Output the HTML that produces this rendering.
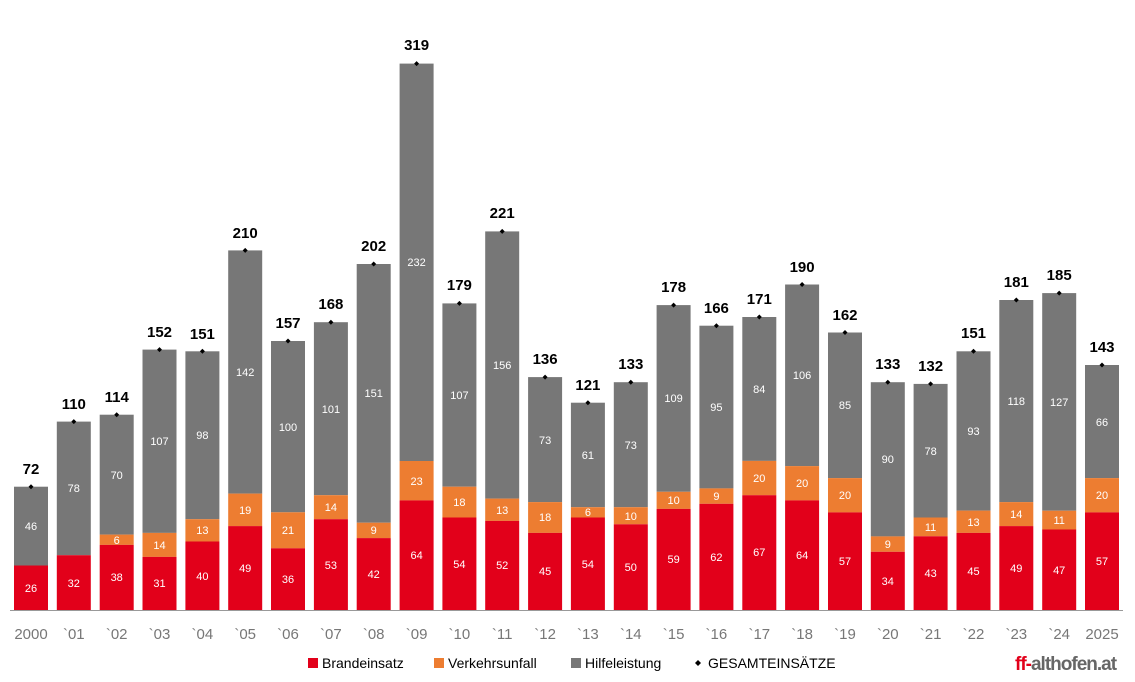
<!DOCTYPE html>
<html><head><meta charset="utf-8"><style>
body{margin:0;background:#fff}
svg{display:block;font-family:"Liberation Sans",sans-serif}
.r{fill:#E2001A}.o{fill:#ED7D31}.g{fill:#777}
.l{fill:#fff;font-size:11px;text-anchor:middle}
.t{fill:#000;font-size:15px;font-weight:bold;text-anchor:middle}
.x{fill:#777;font-size:15px;text-anchor:middle}
.lg{fill:#000;font-size:14px}
</style></head><body>
<svg width="1135" height="682" viewBox="0 0 1135 682">
<line x1="10" y1="610.5" x2="1123" y2="610.5" stroke="#999" stroke-width="1"/>
<g id="bars">
<rect class="g" x="14" y="486.7" width="34" height="78.8"/><rect class="r" x="14" y="565.5" width="34" height="44.5"/>
<rect class="g" x="56.8" y="421.6" width="34" height="133.6"/><rect class="r" x="56.8" y="555.2" width="34" height="54.8"/>
<rect class="g" x="99.7" y="414.7" width="34" height="119.9"/><rect class="o" x="99.7" y="534.6" width="34" height="10.3"/><rect class="r" x="99.7" y="544.9" width="34" height="65.1"/>
<rect class="g" x="142.5" y="349.6" width="34" height="183.3"/><rect class="o" x="142.5" y="532.9" width="34" height="24"/><rect class="r" x="142.5" y="556.9" width="34" height="53.1"/>
<rect class="g" x="185.4" y="351.3" width="34" height="167.9"/><rect class="o" x="185.4" y="519.2" width="34" height="22.3"/><rect class="r" x="185.4" y="541.5" width="34" height="68.5"/>
<rect class="g" x="228.2" y="250.4" width="34" height="243.2"/><rect class="o" x="228.2" y="493.6" width="34" height="32.5"/><rect class="r" x="228.2" y="526.1" width="34" height="83.9"/>
<rect class="g" x="271" y="341" width="34" height="171.3"/><rect class="o" x="271" y="512.3" width="34" height="36"/><rect class="r" x="271" y="548.3" width="34" height="61.7"/>
<rect class="g" x="313.9" y="322.2" width="34" height="173"/><rect class="o" x="313.9" y="495.2" width="34" height="24"/><rect class="r" x="313.9" y="519.2" width="34" height="90.8"/>
<rect class="g" x="356.7" y="264" width="34" height="258.7"/><rect class="o" x="356.7" y="522.7" width="34" height="15.4"/><rect class="r" x="356.7" y="538.1" width="34" height="71.9"/>
<rect class="g" x="399.6" y="63.6" width="34" height="397.4"/><rect class="o" x="399.6" y="461" width="34" height="39.4"/><rect class="r" x="399.6" y="500.4" width="34" height="109.6"/>
<rect class="g" x="442.4" y="303.4" width="34" height="183.3"/><rect class="o" x="442.4" y="486.7" width="34" height="30.8"/><rect class="r" x="442.4" y="517.5" width="34" height="92.5"/>
<rect class="g" x="485.2" y="231.4" width="34" height="267.2"/><rect class="o" x="485.2" y="498.6" width="34" height="22.3"/><rect class="r" x="485.2" y="520.9" width="34" height="89.1"/>
<rect class="g" x="528.1" y="377.1" width="34" height="125"/><rect class="o" x="528.1" y="502.1" width="34" height="30.8"/><rect class="r" x="528.1" y="532.9" width="34" height="77.1"/>
<rect class="g" x="570.9" y="402.7" width="34" height="104.5"/><rect class="o" x="570.9" y="507.2" width="34" height="10.3"/><rect class="r" x="570.9" y="517.5" width="34" height="92.5"/>
<rect class="g" x="613.8" y="382.2" width="34" height="125"/><rect class="o" x="613.8" y="507.2" width="34" height="17.1"/><rect class="r" x="613.8" y="524.3" width="34" height="85.7"/>
<rect class="g" x="656.6" y="305.1" width="34" height="186.7"/><rect class="o" x="656.6" y="491.8" width="34" height="17.1"/><rect class="r" x="656.6" y="508.9" width="34" height="101.1"/>
<rect class="g" x="699.4" y="325.7" width="34" height="162.7"/><rect class="o" x="699.4" y="488.4" width="34" height="15.4"/><rect class="r" x="699.4" y="503.8" width="34" height="106.2"/>
<rect class="g" x="742.3" y="317" width="34" height="143.9"/><rect class="o" x="742.3" y="460.9" width="34" height="34.3"/><rect class="r" x="742.3" y="495.2" width="34" height="114.8"/>
<rect class="g" x="785.1" y="284.5" width="34" height="181.6"/><rect class="o" x="785.1" y="466.1" width="34" height="34.3"/><rect class="r" x="785.1" y="500.4" width="34" height="109.6"/>
<rect class="g" x="828" y="332.5" width="34" height="145.6"/><rect class="o" x="828" y="478.1" width="34" height="34.3"/><rect class="r" x="828" y="512.4" width="34" height="97.6"/>
<rect class="g" x="870.8" y="382.2" width="34" height="154.2"/><rect class="o" x="870.8" y="536.4" width="34" height="15.4"/><rect class="r" x="870.8" y="551.8" width="34" height="58.2"/>
<rect class="g" x="913.6" y="383.9" width="34" height="133.6"/><rect class="o" x="913.6" y="517.5" width="34" height="18.8"/><rect class="r" x="913.6" y="536.3" width="34" height="73.7"/>
<rect class="g" x="956.5" y="351.3" width="34" height="159.3"/><rect class="o" x="956.5" y="510.6" width="34" height="22.3"/><rect class="r" x="956.5" y="532.9" width="34" height="77.1"/>
<rect class="g" x="999.3" y="300" width="34" height="202.1"/><rect class="o" x="999.3" y="502.1" width="34" height="24"/><rect class="r" x="999.3" y="526.1" width="34" height="83.9"/>
<rect class="g" x="1042.2" y="293.1" width="34" height="217.6"/><rect class="o" x="1042.2" y="510.7" width="34" height="18.8"/><rect class="r" x="1042.2" y="529.5" width="34" height="80.5"/>
<rect class="g" x="1085" y="365" width="34" height="113.1"/><rect class="o" x="1085" y="478.1" width="34" height="34.3"/><rect class="r" x="1085" y="512.4" width="34" height="97.6"/>
</g>
<g>
<text class="l" x="31" y="592">26</text><text class="l" x="31" y="530">46</text>
<text class="l" x="73.8" y="587">32</text><text class="l" x="73.8" y="492">78</text>
<text class="l" x="116.7" y="581">38</text><text class="l" x="116.7" y="544">6</text><text class="l" x="116.7" y="479">70</text>
<text class="l" x="159.5" y="587">31</text><text class="l" x="159.5" y="549">14</text><text class="l" x="159.5" y="445">107</text>
<text class="l" x="202.4" y="580">40</text><text class="l" x="202.4" y="534">13</text><text class="l" x="202.4" y="439">98</text>
<text class="l" x="245.2" y="572">49</text><text class="l" x="245.2" y="514">19</text><text class="l" x="245.2" y="376">142</text>
<text class="l" x="288" y="583">36</text><text class="l" x="288" y="534">21</text><text class="l" x="288" y="431">100</text>
<text class="l" x="330.9" y="569">53</text><text class="l" x="330.9" y="511">14</text><text class="l" x="330.9" y="413">101</text>
<text class="l" x="373.7" y="578">42</text><text class="l" x="373.7" y="534">9</text><text class="l" x="373.7" y="397">151</text>
<text class="l" x="416.6" y="559">64</text><text class="l" x="416.6" y="485">23</text><text class="l" x="416.6" y="266">232</text>
<text class="l" x="459.4" y="568">54</text><text class="l" x="459.4" y="506">18</text><text class="l" x="459.4" y="399">107</text>
<text class="l" x="502.2" y="569">52</text><text class="l" x="502.2" y="514">13</text><text class="l" x="502.2" y="369">156</text>
<text class="l" x="545.1" y="575">45</text><text class="l" x="545.1" y="521">18</text><text class="l" x="545.1" y="444">73</text>
<text class="l" x="587.9" y="568">54</text><text class="l" x="587.9" y="516">6</text><text class="l" x="587.9" y="459">61</text>
<text class="l" x="630.8" y="571">50</text><text class="l" x="630.8" y="520">10</text><text class="l" x="630.8" y="449">73</text>
<text class="l" x="673.6" y="563">59</text><text class="l" x="673.6" y="504">10</text><text class="l" x="673.6" y="402">109</text>
<text class="l" x="716.4" y="561">62</text><text class="l" x="716.4" y="500">9</text><text class="l" x="716.4" y="411">95</text>
<text class="l" x="759.3" y="556">67</text><text class="l" x="759.3" y="482">20</text><text class="l" x="759.3" y="393">84</text>
<text class="l" x="802.1" y="559">64</text><text class="l" x="802.1" y="487">20</text><text class="l" x="802.1" y="379">106</text>
<text class="l" x="845" y="565">57</text><text class="l" x="845" y="499">20</text><text class="l" x="845" y="409">85</text>
<text class="l" x="887.8" y="585">34</text><text class="l" x="887.8" y="548">9</text><text class="l" x="887.8" y="463">90</text>
<text class="l" x="930.6" y="577">43</text><text class="l" x="930.6" y="531">11</text><text class="l" x="930.6" y="455">78</text>
<text class="l" x="973.5" y="575">45</text><text class="l" x="973.5" y="526">13</text><text class="l" x="973.5" y="435">93</text>
<text class="l" x="1016.3" y="572">49</text><text class="l" x="1016.3" y="518">14</text><text class="l" x="1016.3" y="405">118</text>
<text class="l" x="1059.2" y="574">47</text><text class="l" x="1059.2" y="524">11</text><text class="l" x="1059.2" y="406">127</text>
<text class="l" x="1102" y="565">57</text><text class="l" x="1102" y="499">20</text><text class="l" x="1102" y="426">66</text>
</g>
<g fill="#000">
<path d="M31 484.2l2.5 2.5-2.5 2.5-2.5-2.5z"/><path d="M73.8 419.1l2.5 2.5-2.5 2.5-2.5-2.5z"/><path d="M116.7 412.2l2.5 2.5-2.5 2.5-2.5-2.5z"/><path d="M159.5 347.1l2.5 2.5-2.5 2.5-2.5-2.5z"/><path d="M202.4 348.8l2.5 2.5-2.5 2.5-2.5-2.5z"/><path d="M245.2 247.9l2.5 2.5-2.5 2.5-2.5-2.5z"/><path d="M288 338.5l2.5 2.5-2.5 2.5-2.5-2.5z"/><path d="M330.9 319.7l2.5 2.5-2.5 2.5-2.5-2.5z"/><path d="M373.7 261.5l2.5 2.5-2.5 2.5-2.5-2.5z"/><path d="M416.6 61.1l2.5 2.5-2.5 2.5-2.5-2.5z"/><path d="M459.4 300.9l2.5 2.5-2.5 2.5-2.5-2.5z"/><path d="M502.2 228.9l2.5 2.5-2.5 2.5-2.5-2.5z"/><path d="M545.1 374.6l2.5 2.5-2.5 2.5-2.5-2.5z"/><path d="M587.9 400.2l2.5 2.5-2.5 2.5-2.5-2.5z"/><path d="M630.8 379.7l2.5 2.5-2.5 2.5-2.5-2.5z"/><path d="M673.6 302.6l2.5 2.5-2.5 2.5-2.5-2.5z"/><path d="M716.4 323.2l2.5 2.5-2.5 2.5-2.5-2.5z"/><path d="M759.3 314.5l2.5 2.5-2.5 2.5-2.5-2.5z"/><path d="M802.1 282l2.5 2.5-2.5 2.5-2.5-2.5z"/><path d="M845 330l2.5 2.5-2.5 2.5-2.5-2.5z"/><path d="M887.8 379.7l2.5 2.5-2.5 2.5-2.5-2.5z"/><path d="M930.6 381.4l2.5 2.5-2.5 2.5-2.5-2.5z"/><path d="M973.5 348.8l2.5 2.5-2.5 2.5-2.5-2.5z"/><path d="M1016.3 297.5l2.5 2.5-2.5 2.5-2.5-2.5z"/><path d="M1059.2 290.6l2.5 2.5-2.5 2.5-2.5-2.5z"/><path d="M1102 362.5l2.5 2.5-2.5 2.5-2.5-2.5z"/>
</g>
<g>
<text class="t" x="31" y="474">72</text><text class="t" x="73.8" y="409">110</text><text class="t" x="116.7" y="402">114</text><text class="t" x="159.5" y="337">152</text><text class="t" x="202.4" y="339">151</text><text class="t" x="245.2" y="238">210</text><text class="t" x="288" y="328">157</text><text class="t" x="330.9" y="309">168</text><text class="t" x="373.7" y="251">202</text><text class="t" x="416.6" y="50">319</text><text class="t" x="459.4" y="290">179</text><text class="t" x="502.2" y="218">221</text><text class="t" x="545.1" y="364">136</text><text class="t" x="587.9" y="390">121</text><text class="t" x="630.8" y="369">133</text><text class="t" x="673.6" y="292">178</text><text class="t" x="716.4" y="313">166</text><text class="t" x="759.3" y="304">171</text><text class="t" x="802.1" y="272">190</text><text class="t" x="845" y="320">162</text><text class="t" x="887.8" y="369">133</text><text class="t" x="930.6" y="371">132</text><text class="t" x="973.5" y="338">151</text><text class="t" x="1016.3" y="287">181</text><text class="t" x="1059.2" y="280">185</text><text class="t" x="1102" y="352">143</text>
</g>
<g>
<text class="x" x="31" y="639">2000</text><text class="x" x="73.8" y="639">`01</text><text class="x" x="116.7" y="639">`02</text><text class="x" x="159.5" y="639">`03</text><text class="x" x="202.4" y="639">`04</text><text class="x" x="245.2" y="639">`05</text><text class="x" x="288" y="639">`06</text><text class="x" x="330.9" y="639">`07</text><text class="x" x="373.7" y="639">`08</text><text class="x" x="416.6" y="639">`09</text><text class="x" x="459.4" y="639">`10</text><text class="x" x="502.2" y="639">`11</text><text class="x" x="545.1" y="639">`12</text><text class="x" x="587.9" y="639">`13</text><text class="x" x="630.8" y="639">`14</text><text class="x" x="673.6" y="639">`15</text><text class="x" x="716.4" y="639">`16</text><text class="x" x="759.3" y="639">`17</text><text class="x" x="802.1" y="639">`18</text><text class="x" x="845" y="639">`19</text><text class="x" x="887.8" y="639">`20</text><text class="x" x="930.6" y="639">`21</text><text class="x" x="973.5" y="639">`22</text><text class="x" x="1016.3" y="639">`23</text><text class="x" x="1059.2" y="639">`24</text><text class="x" x="1102" y="639">2025</text>
</g>
<rect class="r" x="308" y="658" width="10" height="10"/><text class="lg" x="322" y="668">Brandeinsatz</text>
<rect class="o" x="434" y="658" width="10" height="10"/><text class="lg" x="448" y="668">Verkehrsunfall</text>
<rect class="g" x="571" y="658" width="10" height="10"/><text class="lg" x="585" y="668">Hilfeleistung</text>
<path d="M698 660l3 3-3 3-3-3z" fill="#000"/><text class="lg" x="708" y="668">GESAMTEINSÄTZE</text>
<text x="1015" y="670" style="font-size:19px;font-weight:bold;letter-spacing:-1px"><tspan fill="#E2001A">ff-</tspan><tspan fill="#666">althofen.at</tspan></text>
</svg>
</body></html>
